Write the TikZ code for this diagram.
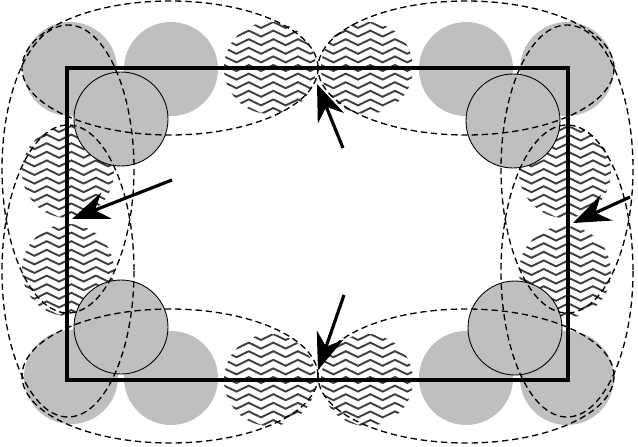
\documentclass[tikz,border=0pt]{standalone}
\usepackage{xcolor}
\usepackage{tikz}
\usetikzlibrary{calc}
\usetikzlibrary{arrows.meta}
\usetikzlibrary{decorations.pathmorphing}

\tikzset{
	grain/.style={fill=black!25},
	graindraw/.style={fill=black!25, draw=black, line width=0.5pt},
	wave/.style={draw=black!75, line width=1.1pt, decorate, decoration={zigzag, segment length=14pt, amplitude=1.7pt}},
	hull/.style={draw=black, dash pattern=on 3.6pt off 2.2pt, line width=0.75pt},
	box/.style={draw=black, line width=2.3pt},
	push/.style={draw=black, line width=1.8pt, -{Stealth[length=21pt, width=16pt, inset=7pt]}},
}

\newcommand{\wavydisc}[2]{%
	\begin{scope}
		\clip (#1,#2) circle (46);
		\foreach \k in {-6,...,6}{
			\pgfmathsetmacro{\wy}{#2+\k*8.6}
			\draw[wave] ({#1-52},\wy) -- ({#1+52},\wy);
		}
	\end{scope}
}

\begin{document}
\begin{tikzpicture}[x=0.02cm, y=-0.02cm]
		\useasboundingbox (0,0) rectangle (638,446);
		
		\coordinate (N) at (343,148);
		\coordinate (N2) at (317,84);
		\coordinate (S) at (344,295);
		\coordinate (S2) at (318,370);
		\coordinate (W) at (172,180);
		\coordinate (W2) at (72,219);
		\coordinate (E) at (630,197);
		\coordinate (E2) at (573,223);
		
		\fill[grain] (70,69) circle (47);
		\fill[grain] (171,69) circle (47);
		\fill[grain] (466,69) circle (47);
		\fill[grain] (567,69) circle (47);
		\fill[grain] (71,377) circle (47);
		\fill[grain] (171,378) circle (47);
		\fill[grain] (466,378) circle (47);
		\fill[grain] (567,378) circle (47);
		
		\wavydisc{270}{68}
		\wavydisc{367}{68}
		\wavydisc{270}{380}
		\wavydisc{367}{380}
		\wavydisc{68}{172}
		\wavydisc{68}{270}
		\wavydisc{565}{172}
		\wavydisc{565}{272}
		
		\filldraw[graindraw] (121,119) circle (47);
		\filldraw[graindraw] (513,121) circle (47);
		\filldraw[graindraw] (121,327) circle (47);
		\filldraw[graindraw] (515,328) circle (47);
		
		\draw[box] (67,68) rectangle (568,380);
		
		\draw[hull] (170,68) ellipse [x radius=148, y radius=67];
		\draw[hull] (466,68) ellipse [x radius=148, y radius=67];
		\draw[hull] (170,376) ellipse [x radius=148, y radius=67];
		\draw[hull] (466,376) ellipse [x radius=148, y radius=67];
		\draw[hull] (68,169) ellipse [x radius=66, y radius=144];
		\draw[hull] (68,271) ellipse [x radius=66, y radius=146];
		\draw[hull] (567,169) ellipse [x radius=66, y radius=144];
		\draw[hull] (567,271) ellipse [x radius=66, y radius=146];
		
		\draw[push] (N) -- (N2);
		\draw[push] (S) -- (S2);
		\draw[push] (W) -- (W2);
		\draw[push] (E) -- (E2);
	\end{tikzpicture}
\end{document}
